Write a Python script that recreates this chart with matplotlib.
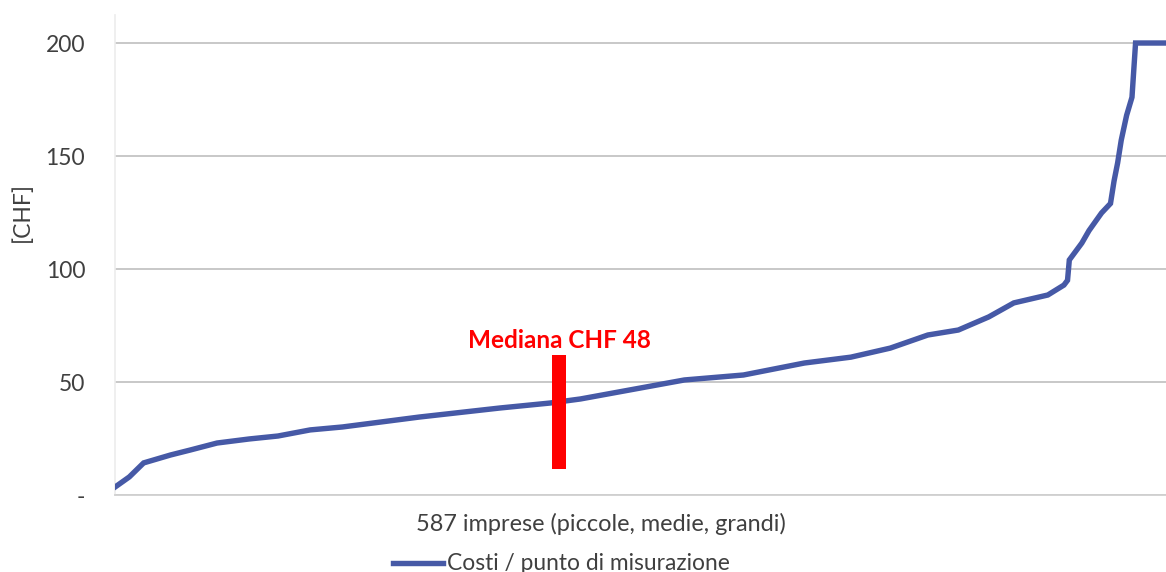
import numpy as np
import matplotlib.pyplot as plt
from matplotlib.lines import Line2D

rank = [0, 8, 16, 31, 42, 57, 75, 91, 109, 127, 170, 215, 243, 260,
        318, 351, 385, 411, 433, 454, 471, 488, 502, 521, 530, 532,
        533, 540, 544, 551, 556, 558, 560, 562, 565, 568, 570, 587]
cost = [3.5, 8, 14.2, 17.7, 19.9, 23, 24.8, 26.1, 28.8, 30.1, 34.5, 38.5, 40.7, 42.5,
        50.9, 53.1, 58.4, 61, 65, 70.8, 73, 78.8, 85, 88.5, 92.9, 95,
        104, 111.5, 117, 124.8, 129, 139, 147, 157, 168, 176, 200, 200]
n_companies = 587
median_rank = 248
median_label = "Mediana CHF 48"
bar_bottom, bar_top = 11.5, 62
yticks = [0, 50, 100, 150, 200]
ytick_labels = ["-", "50", "100", "150", "200"]

plt.rcParams['font.family'] = ['Lato', 'DejaVu Sans']
W, H = 1166, 572
fig = plt.figure(figsize=(W / 100, H / 100), dpi=100)
ax = fig.add_axes([115 / W, 1 - 495 / H, 1 - 115 / W, 480 / H])

blue = '#4659a6'
ax.plot(rank, cost, color=blue, lw=3.9, solid_joinstyle='miter', zorder=3)
ax.bar(median_rank, bar_top - bar_bottom, bottom=bar_bottom, width=7.8,
       color='#ff0000', zorder=4)
ax.text(median_rank, 68.5, median_label, color='#ff0000', fontsize=17.5,
        fontweight='bold', ha='center', va='center', zorder=5)

ax.set_xlim(0, n_companies)
ax.set_ylim(0, 212.4)
ax.set_yticks(yticks)
ax.set_yticklabels(ytick_labels)
ax.set_xticks([])
ax.tick_params(axis='y', length=0, pad=21.5, labelsize=16.5, labelcolor='#404040')
ax.grid(axis='y', color='#c4c4c4', lw=1.3, zorder=0)
for s in ['top', 'right']:
    ax.spines[s].set_visible(False)
ax.spines['left'].set_color('#ececec')
ax.spines['left'].set_linewidth(1.2)
ax.spines['bottom'].set_color('#d0d0d0')
ax.spines['bottom'].set_linewidth(1.3)

fig.text(22 / W, 1 - 212 / H, "[CHF]", rotation=90, ha='center', va='center',
         fontsize=16.5, color='#404040')
fig.text(601 / W, 1 - 524 / H, "587 imprese (piccole, medie, grandi)",
         ha='center', va='center', fontsize=16.9, color='#404040')
fig.add_artist(Line2D([393 / W, 443 / W], [1 - 563 / H, 1 - 563 / H],
                      color=blue, lw=3.9, transform=fig.transFigure))
fig.text(447 / W, 1 - 563 / H, "Costi / punto di misurazione",
         ha='left', va='center', fontsize=16.4, color='#404040')

fig.savefig('out.png', dpi=100)
